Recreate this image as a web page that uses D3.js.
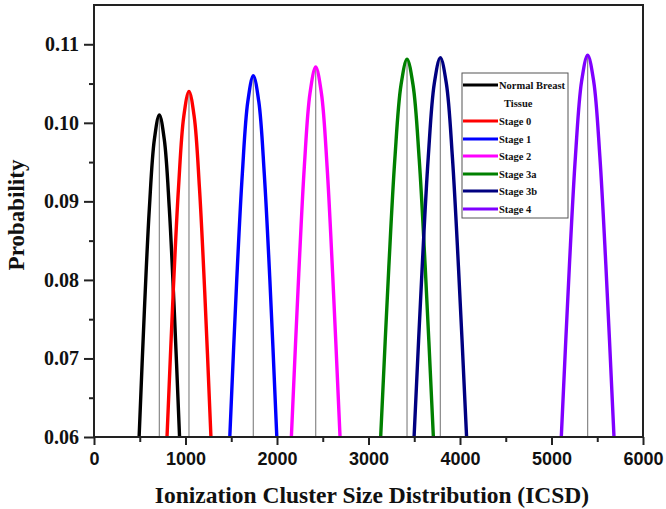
<!DOCTYPE html>
<html><head><meta charset="utf-8">
<script src="https://cdn.jsdelivr.net/npm/d3@7"></script>
<style>body{margin:0;background:#fff}svg{display:block}</style>
</head><body>
<svg id="c" width="666" height="509"></svg>
<script>
// ---- data ----
const seriesNames = ["Normal Breast Tissue","Stage 0","Stage 1","Stage 2","Stage 3a","Stage 3b","Stage 4"];
const seriesColors = ["#000000","#ff0000","#0000ff","#ff00ff","#008000","#000080","#7f00ff"];
const peakX = [714, 1038, 1741, 2423, 3421, 3785, 5395];
const peakY = [0.101, 0.104, 0.106, 0.1071, 0.1081, 0.1083, 0.1086];
const xNormal = [493, 551, 605, 660, 714, 768, 823, 877, 935];
const yNormal = [0.060, 0.0762, 0.0891, 0.0979, 0.101, 0.0979, 0.0891, 0.0762, 0.060];
const xStage0 = [798, 866, 924, 981, 1038, 1095, 1152, 1210, 1278];
const yStage0 = [0.060, 0.0785, 0.0918, 0.1008, 0.104, 0.1008, 0.0918, 0.0785, 0.060];
const xStage1 = [1484, 1560, 1621, 1681, 1741, 1801, 1861, 1922, 1998];
const yStage1 = [0.060, 0.0800, 0.0935, 0.1027, 0.106, 0.1027, 0.0935, 0.0800, 0.060];
const xStage2 = [2157, 2238, 2299, 2361, 2423, 2485, 2547, 2608, 2689];
const yStage2 = [0.060, 0.0808, 0.0945, 0.1038, 0.1071, 0.1038, 0.0945, 0.0808, 0.060];
const xStage3a = [3133, 3222, 3288, 3355, 3421, 3487, 3554, 3620, 3709];
const yStage3a = [0.060, 0.0816, 0.0954, 0.1048, 0.1081, 0.1048, 0.0954, 0.0816, 0.060];
const xStage3b = [3498, 3587, 3653, 3719, 3785, 3851, 3917, 3983, 4072];
const yStage3b = [0.060, 0.0817, 0.0956, 0.1050, 0.1083, 0.1050, 0.0956, 0.0817, 0.060];
const xStage4 = [5107, 5196, 5262, 5329, 5395, 5461, 5528, 5594, 5683];
const yStage4 = [0.060, 0.0819, 0.0958, 0.1053, 0.1086, 0.1053, 0.0958, 0.0819, 0.060];
const xTicks = [0, 1000, 2000, 3000, 4000, 5000, 6000];
const xMinorTicks = [500, 1500, 2500, 3500, 4500, 5500];
const yTicks = [0.06, 0.07, 0.08, 0.09, 0.10, 0.11];
const yMinorTicks = [0.065, 0.075, 0.085, 0.095, 0.105];
const xTitle = "Ionization Cluster Size Distribution (ICSD)";
const yTitle = "Probability";

const seriesX = [xNormal, xStage0, xStage1, xStage2, xStage3a, xStage3b, xStage4];
const seriesY = [yNormal, yStage0, yStage1, yStage2, yStage3a, yStage3b, yStage4];

// ---- layout ----
const L = 94, T = 5, R = 643, B = 437;
const svg = d3.select("#c");
const x = d3.scaleLinear().domain([0, 6000]).range([L, R]);
const y = d3.scaleLinear().domain([0.06, 0.115]).range([B, T]);

const serif = "'Liberation Serif','Times New Roman',serif";
const sans = "'Liberation Sans',Arial,sans-serif";

const plot = svg.append("g");
plot.append("clipPath").attr("id","clip").append("rect")
  .attr("x", L).attr("y", T).attr("width", R - L).attr("height", B - T);

// gray center lines
plot.append("g").selectAll("line").data(peakX).join("line")
  .attr("x1", d => x(d)).attr("x2", d => x(d))
  .attr("y1", y(0.06)).attr("y2", (d, i) => y(peakY[i]))
  .attr("stroke", "#888").attr("stroke-width", 1.2);

const line = d3.line().x(d => x(d[0])).y(d => y(d[1])).curve(d3.curveCatmullRom.alpha(0.5));
plot.append("g").attr("clip-path","url(#clip)").selectAll("path")
  .data(seriesX.map((xs, i) => xs.map((v, j) => [v, seriesY[i][j]])))
  .join("path")
  .attr("d", line).attr("fill", "none")
  .attr("stroke", (d, i) => seriesColors[i]).attr("stroke-width", 3.4)
  .attr("stroke-linejoin", "round");

// axes
const ax = svg.append("g").attr("transform", `translate(0,${B})`)
  .call(d3.axisBottom(x).tickValues(xTicks).tickSize(8).tickPadding(7).tickFormat(d3.format("d")));
const axm = svg.append("g").attr("transform", `translate(0,${B})`)
  .call(d3.axisBottom(x).tickValues(xMinorTicks).tickSize(5).tickFormat(""));
const ay = svg.append("g").attr("transform", `translate(${L},0)`)
  .call(d3.axisLeft(y).tickValues(yTicks).tickSize(10).tickPadding(5).tickFormat(d3.format(".2f")));
const aym = svg.append("g").attr("transform", `translate(${L},0)`)
  .call(d3.axisLeft(y).tickValues(yMinorTicks).tickSize(5).tickFormat(""));
[ax, axm, ay, aym].forEach(g => {
  g.select(".domain").remove();
  g.selectAll(".tick line").attr("stroke", "#222").attr("stroke-width", 2);
});
ax.selectAll("text").attr("font-family", sans).attr("font-weight", "bold")
  .attr("font-size", 18).attr("fill", "#111");
ay.selectAll("text").attr("font-family", serif).attr("font-weight", "bold")
  .attr("font-size", 20).attr("fill", "#111");

// frame
svg.append("rect").attr("x", L).attr("y", T).attr("width", R - L).attr("height", B - T)
  .attr("fill", "none").attr("stroke", "#222").attr("stroke-width", 2);

// titles
svg.append("text").attr("x", 372).attr("y", 503).attr("text-anchor", "middle")
  .attr("font-family", serif).attr("font-weight", "bold").attr("font-size", 23.5).attr("fill", "#111")
  .text(xTitle);
svg.append("text").attr("transform", `translate(24,215) rotate(-90)`)
  .attr("text-anchor", "middle")
  .attr("font-family", serif).attr("font-weight", "bold").attr("font-size", 23).attr("fill", "#111")
  .text(yTitle);

// legend
const lg = svg.append("g");
lg.append("rect").attr("x", 462).attr("y", 73).attr("width", 106).attr("height", 145)
  .attr("fill", "#fff").attr("stroke", "#555").attr("stroke-width", 1);
const rowY = [85, 121, 139, 156, 174, 191, 209];
seriesNames.forEach((name, i) => {
  lg.append("line").attr("x1", 463).attr("x2", 498).attr("y1", rowY[i]).attr("y2", rowY[i])
    .attr("stroke", seriesColors[i]).attr("stroke-width", 3);
  const parts = i === 0 ? ["Normal Breast", "Tissue"] : [name];
  parts.forEach((p, k) => {
    lg.append("text").attr("x", k === 0 ? 499 : 504).attr("y", rowY[i] + 3.5 + k * 18)
      .attr("font-family", serif).attr("font-weight", "bold").attr("font-size", 10.5)
      .attr("fill", "#111").text(p);
  });
});
</script>
</body></html>
